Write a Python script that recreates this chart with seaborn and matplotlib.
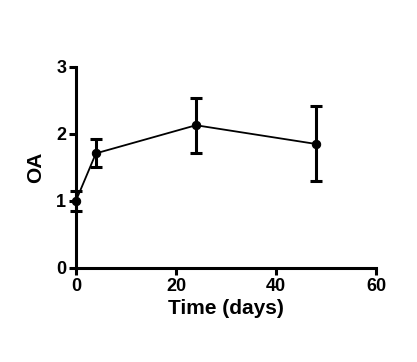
import matplotlib
matplotlib.use("Agg")
import matplotlib.pyplot as plt
import seaborn as sns
import pandas as pd

time_days = [0, 4, 24, 48]
oa_mean = [1.00, 1.71, 2.13, 1.85]
oa_err = [0.15, 0.21, 0.41, 0.56]

sns.set_style("ticks", {"axes.edgecolor": "black", "xtick.color": "black",
                        "ytick.color": "black", "text.color": "black",
                        "axes.labelcolor": "black"})
plt.rcParams['font.family'] = ['Liberation Sans', 'DejaVu Sans']
plt.rcParams['font.weight'] = 'bold'

fig = plt.figure(figsize=(4.17, 3.62), dpi=100)
ax = fig.add_axes([0.182, 0.26, 0.72, 0.555])

df = pd.DataFrame({"Time": time_days, "OA": oa_mean})
ax.errorbar(time_days, oa_mean, yerr=oa_err, fmt='none', ecolor='black',
            elinewidth=2.2, capsize=4, capthick=2.2, clip_on=False, zorder=3)
sns.lineplot(data=df, x="Time", y="OA", ax=ax, color='black', linewidth=1.3,
             marker='o', markersize=6, markeredgecolor='black', clip_on=False, zorder=4)

ax.set_xlim(0, 60)
ax.set_ylim(0, 3)
ax.set_xticks([0, 20, 40, 60])
ax.set_yticks([0, 1, 2, 3])
sns.despine(ax=ax)
for s in ['left', 'bottom']:
    ax.spines[s].set_linewidth(2.2)
    ax.spines[s].set_color('black')
ax.tick_params(axis='both', width=2.2, length=5, labelsize=13, pad=2,
               colors='black')
for lbl in ax.get_xticklabels() + ax.get_yticklabels():
    lbl.set_fontweight('bold')
ax.set_xlabel("Time (days)", fontsize=15, fontweight='bold', labelpad=3, color='black')
ax.set_ylabel("OA", fontsize=15, fontweight='bold', labelpad=8, color='black')

fig.savefig("out.png", dpi=100, facecolor='white')
